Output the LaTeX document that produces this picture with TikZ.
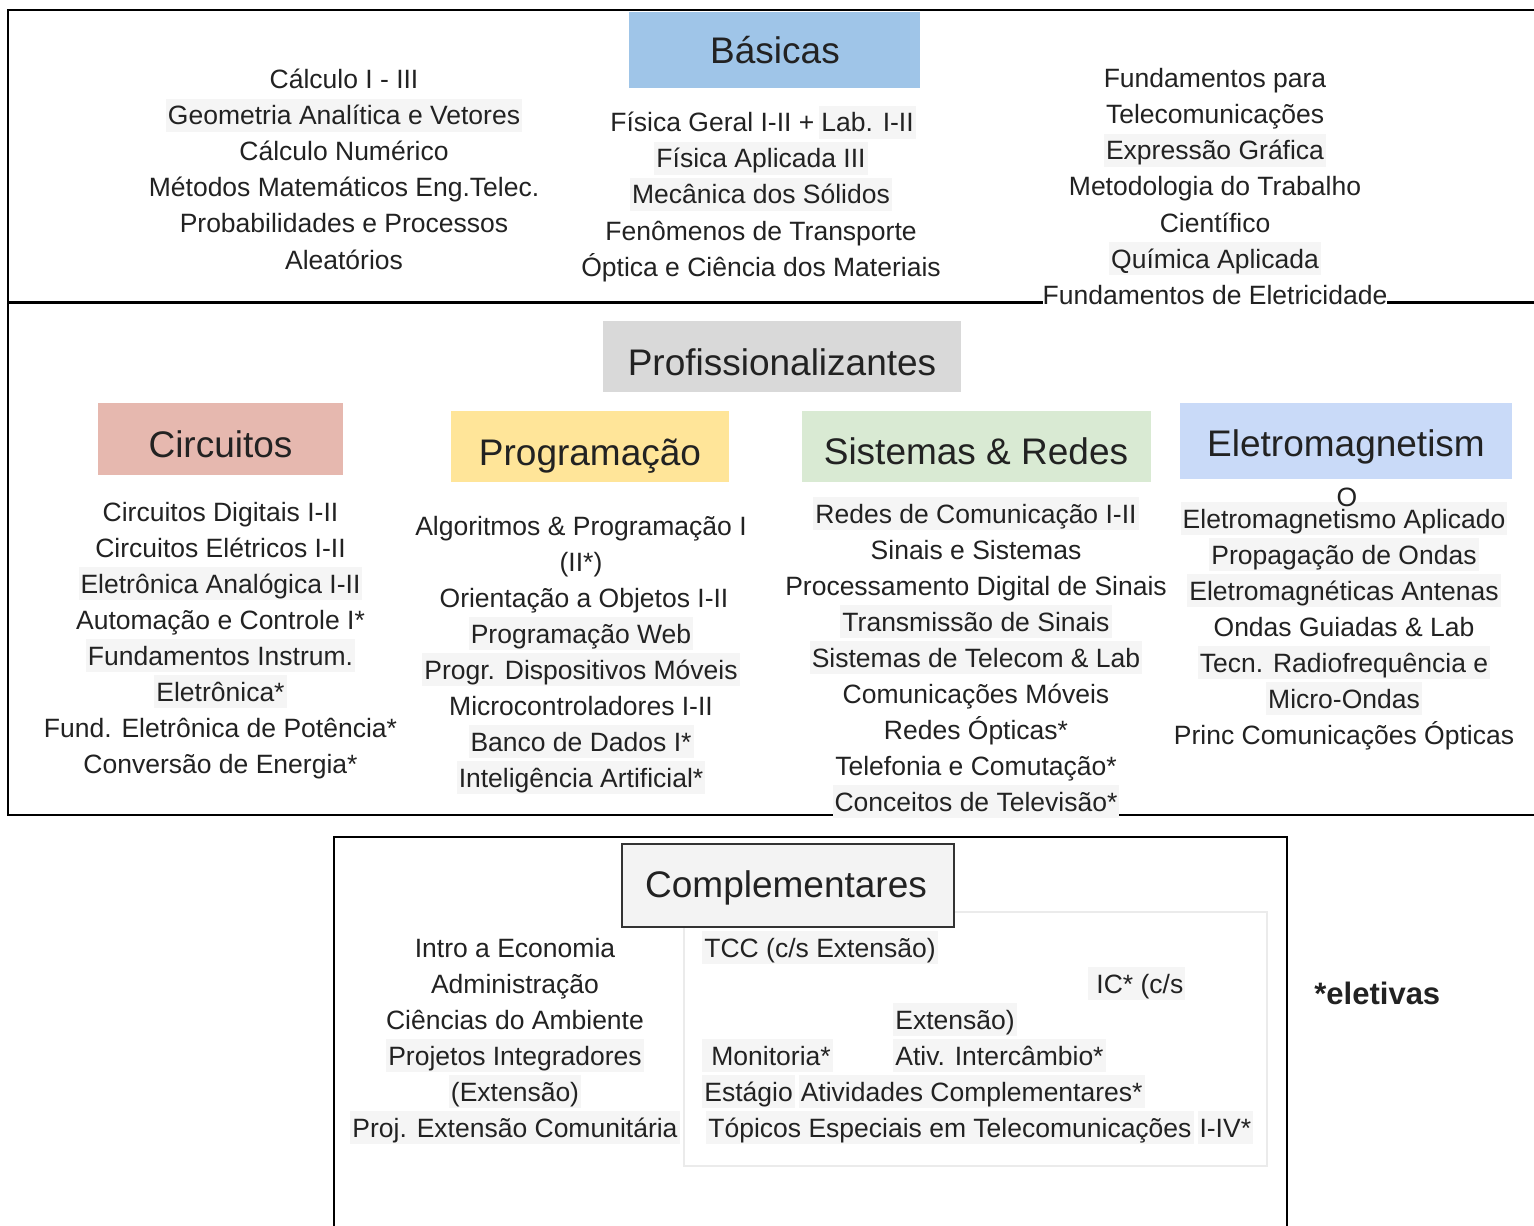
\documentclass[tikz,border=0pt]{standalone}
\usepackage{fontspec}
\setmainfont{Liberation Sans}
\definecolor{ink}{HTML}{222222}
\definecolor{hlgray}{HTML}{F5F5F5}
\definecolor{cbas}{HTML}{9FC5E8}
\definecolor{cprof}{HTML}{D9D9D9}
\definecolor{ccirc}{HTML}{E6B8AF}
\definecolor{cprog}{HTML}{FFE599}
\definecolor{csist}{HTML}{D9EAD3}
\definecolor{celet}{HTML}{C9DAF8}
\definecolor{ccomp}{HTML}{F3F3F3}
\definecolor{faint}{HTML}{EBEBEB}
\definecolor{boxline}{HTML}{333333}
\begin{document}
\begin{tikzpicture}[x=0.5pt,y=-0.5pt,
  txt/.style={anchor=base, inner xsep=1pt, inner ysep=1.5pt, text height=11.5pt, text depth=2pt,
              font=\fontsize{13.25pt}{16pt}\selectfont, text=ink},
  hl/.style={txt, fill=hlgray},
  hdr/.style={anchor=base, inner sep=0pt, font=\fontsize{18.5pt}{22pt}\selectfont, text=ink},
  catbox/.style={inner sep=0pt, anchor=north west},
  frame/.style={line width=1pt, draw=black}]
\useasboundingbox (0,0) rectangle (1534,1225);
\fill[white] (0,0) rectangle (1534,1225);

% frames
\draw[frame] (1540,10) -- (8,10) -- (8,815) -- (1540,815);
\draw[line width=1.5pt] (8,302) -- (1540,302);
\draw[frame] (334,1230) -- (334,837) -- (1287,837) -- (1287,1230);

% ---------- Basicas ----------
\node[catbox, fill=cbas, minimum width=145.5pt, minimum height=38pt] (basbox) at (629,12) {};
\node[hdr] (bas) at (775,64) {Básicas};

\node[txt] (b1) at (344,89) {Cálculo I - III};
\node[hl]  (b2) at (344,125) {Geometria Analítica e Vetores};
\node[txt] (b3) at (344,161) {Cálculo Numérico};
\node[txt] (b4) at (344,197) {Métodos Matemáticos Eng.Telec.};
\node[txt] (b5) at (344,233) {Probabilidades e Processos};
\node[txt] (b6) at (344,269) {Aleatórios};

\node[txt, anchor=base west] (m1a) at (608,132) {Física Geral I-II +};
\node[hl, anchor=base west] (m1b) at (819,132) {Lab. I-II};
\node[hl]  (m2) at (761,168) {Física Aplicada III};
\node[hl]  (m3) at (761,204) {Mecânica dos Sólidos};
\node[txt] (m4) at (761,240) {Fenômenos de Transporte};
\node[txt] (m5) at (761,276) {Óptica e Ciência dos Materiais};

\node[txt] (r1) at (1215,88) {Fundamentos para};
\node[txt] (r2) at (1215,124) {Telecomunicações};
\node[hl]  (r3) at (1215,160) {Expressão Gráfica};
\node[txt] (r4) at (1215,196) {Metodologia do Trabalho};
\node[txt] (r5) at (1215,232) {Científico};
\node[hl]  (r6) at (1215,268) {Química Aplicada};
\node[txt, fill=white, inner xsep=0pt] (r7) at (1215,304) {Fundamentos de Eletricidade};

% ---------- Profissionalizantes ----------
\node[catbox, fill=cprof, minimum width=179pt, minimum height=35.5pt] (profbox) at (603,321) {};
\node[hdr] (prof) at (782,375) {Profissionalizantes};

\node[catbox, fill=ccirc, minimum width=122.5pt, minimum height=36pt] (circbox) at (98,403) {};
\node[hdr] (circ) at (220.5,457) {Circuitos};
\node[catbox, fill=cprog, minimum width=139pt, minimum height=35.5pt] (progbox) at (451,411) {};
\node[hdr] (prog) at (590,465) {Programação};
\node[catbox, fill=csist, minimum width=174.5pt, minimum height=35.5pt] (sistbox) at (802,411) {};
\node[hdr] (sist) at (976,464) {Sistemas \& Redes};
\node[catbox, fill=celet, minimum width=166pt, minimum height=38pt] (eletbox) at (1180,403) {};
\node[hdr] (elet) at (1346,456) {Eletromagnetism};

\node[txt] (c1) at (220.5,521) {Circuitos Digitais I-II};
\node[txt] (c2) at (220.5,557) {Circuitos Elétricos I-II};
\node[hl]  (c3) at (220.5,593) {Eletrônica Analógica I-II};
\node[txt] (c4) at (220.5,629) {Automação e Controle I*};
\node[hl]  (c5) at (220.5,665) {Fundamentos Instrum.};
\node[hl]  (c6) at (220.5,701) {Eletrônica*};
\node[txt] (c7) at (220.5,737) {Fund. Eletrônica de Potência*};
\node[txt] (c8) at (220.5,773) {Conversão de Energia*};

\node[txt] (p1) at (581,535) {Algoritmos \& Programação I};
\node[txt] (p2) at (581,571) {(II*)};
\node[txt] (p3) at (584,607) {Orientação a Objetos I-II};
\node[hl]  (p4) at (581,643) {Programação Web};
\node[hl]  (p5) at (581,679) {Progr. Dispositivos Móveis};
\node[txt] (p6) at (581,715) {Microcontroladores I-II};
\node[hl]  (p7) at (581,751) {Banco de Dados I*};
\node[hl]  (p8) at (581,787) {Inteligência Artificial*};

\node[hl]  (s1) at (976,523) {Redes de Comunicação I-II};
\node[txt] (s2) at (976,559) {Sinais e Sistemas};
\node[txt] (s3) at (976,595) {Processamento Digital de Sinais};
\node[hl]  (s4) at (976,631) {Transmissão de Sinais};
\node[hl]  (s5) at (976,667) {Sistemas de Telecom \& Lab};
\node[txt] (s6) at (976,703) {Comunicações Móveis};
\node[txt] (s7) at (976,739) {Redes Ópticas*};
\node[txt] (s8) at (976,775) {Telefonia e Comutação*};
\node[hl]  (s9) at (976,811) {Conceitos de Televisão*};

\node[hl]  (e1) at (1344,528) {Eletromagnetismo Aplicado};
\node[anchor=base, inner sep=0pt, font=\fontsize{13.25pt}{16pt}\selectfont, text=ink] (e0) at (1347,506) {O};
\node[hl]  (e2) at (1344,564) {Propagação de Ondas};
\node[hl]  (e3) at (1344,600) {Eletromagnéticas Antenas};
\node[txt] (e4) at (1344,636) {Ondas Guiadas \& Lab};
\node[hl]  (e5) at (1344,672) {Tecn. Radiofrequência e};
\node[hl]  (e6) at (1344,708) {Micro-Ondas};
\node[txt] (e7) at (1344,744) {Princ Comunicações Ópticas};

% ---------- Complementares ----------
\draw[faint, line width=0.6pt] (684,912) rectangle (1267,1166);
\node[catbox, fill=ccomp, draw=boxline, line width=0.9pt, minimum width=166pt, minimum height=41.5pt] (compbox) at (621,843) {};
\node[hdr] (comp) at (786,897) {Complementares};

\node[txt] (k1) at (515,957) {Intro a Economia};
\node[txt] (k2) at (515,993) {Administração};
\node[txt] (k3) at (515,1029) {Ciências do Ambiente};
\node[hl]  (k4) at (515,1065) {Projetos Integradores};
\node[hl]  (k5) at (515,1101) {(Extensão)};
\node[hl]  (k6) at (515,1137) {Proj. Extensão Comunitária};

\node[hl, anchor=base west] (t1) at (702,957) {TCC (c/s Extensão)};
\node[hl, anchor=base west] (t2) at (1088,993) {\hspace{3pt}IC* (c/s};
\node[hl, anchor=base west] (t3) at (893,1029) {Extensão)};
\node[hl, anchor=base west] (t4) at (702,1065) {\hspace{3.5pt}Monitoria*};
\node[hl, anchor=base west] (t5) at (893,1065) {Ativ. Intercâmbio*};
\node[hl, anchor=base west] (t6) at (702,1101) {Estágio};
\node[hl, anchor=base west, xshift=1.6pt] (t7) at (t6.base east) {Atividades Complementares*};
\node[hl, anchor=base west] (t8) at (706,1137) {Tópicos Especiais em Telecomunicações};
\node[hl, anchor=base west, xshift=1.6pt] (t9) at (t8.base east) {I-IV*};

\node[anchor=base west, inner sep=0pt, font=\fontsize{15.5pt}{18pt}\selectfont\bfseries, text=ink] (eletivas) at (1314,1004) {*eletivas};
\end{tikzpicture}
\end{document}
